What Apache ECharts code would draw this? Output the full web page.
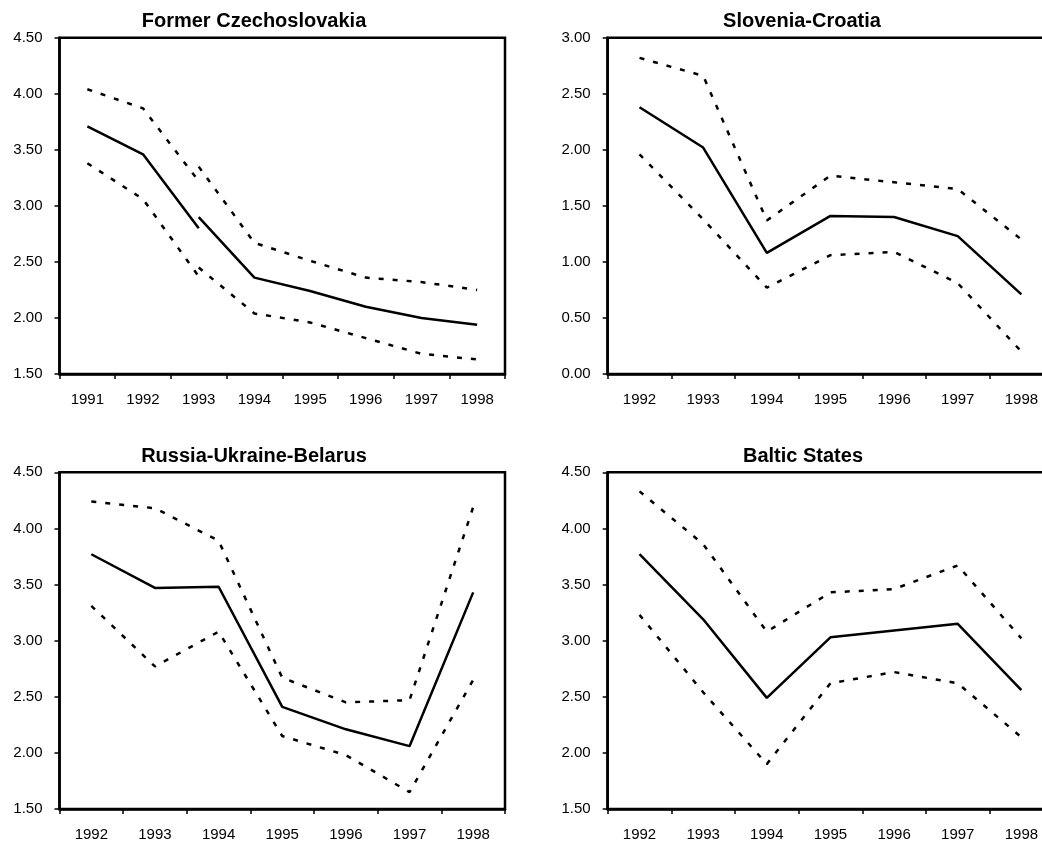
<!DOCTYPE html>
<html>
<head>
<meta charset="utf-8">
<script src="https://cdn.jsdelivr.net/npm/echarts@6/dist/echarts.min.js"></script>
<style>
html,body{margin:0;padding:0;background:#fff;}
#chart{width:1042px;height:846px;}
</style>
</head>
<body>
<div id="chart"></div>
<script>
// ---- Data ----
const titles = ['Former Czechoslovakia', 'Slovenia-Croatia', 'Russia-Ukraine-Belarus', 'Baltic States'];

const czYears = ['1991', '1992', '1993', '1994', '1995', '1996', '1997', '1998'];
const czMainA  = [3.71, 3.46, 2.80, null, null, null, null, null];
const czMainB  = [null, null, 2.90, 2.36, 2.24, 2.10, 2.00, 1.94];
const czUpperA = [4.04, 3.87, 3.22, null, null, null, null, null];
const czUpperB = [null, null, 3.35, 2.67, 2.51, 2.36, 2.32, 2.25];
const czLowerA = [3.38, 3.06, 2.37, null, null, null, null, null];
const czLowerB = [null, null, 2.45, 2.04, 1.96, 1.82, 1.68, 1.63];

const years = ['1992', '1993', '1994', '1995', '1996', '1997', '1998'];

const slMain  = [2.38, 2.02, 1.08, 1.41, 1.40, 1.23, 0.71];
const slUpper = [2.82, 2.66, 1.37, 1.77, 1.71, 1.65, 1.20];
const slLower = [1.96, 1.38, 0.77, 1.06, 1.09, 0.81, 0.20];

const ruMain  = [3.77, 3.47, 3.48, 2.41, 2.21, 2.06, 3.43];
const ruUpper = [4.24, 4.18, 3.89, 2.67, 2.45, 2.47, 4.19];
const ruLower = [3.31, 2.77, 3.08, 2.15, 1.98, 1.65, 2.65];

const btMain  = [3.77, 3.19, 2.49, 3.03, 3.09, 3.15, 2.56];
const btUpper = [4.33, 3.86, 3.08, 3.43, 3.46, 3.67, 3.02];
const btLower = [3.23, 2.54, 1.90, 2.62, 2.72, 2.62, 2.14];

const yRanges = [[1.5, 4.5], [0, 3.0], [1.5, 4.5], [1.5, 4.5]];

// ---- Layout ----
const FONT = 'Liberation Sans, Arial, sans-serif';
const grids = [
  {left: 59.5, top: 37.7, width: 445.5, height: 336.3},
  {left: 607.7, top: 37.7, width: 445.5, height: 336.3},
  {left: 59.5, top: 472.3, width: 445.5, height: 336.7},
  {left: 607.7, top: 472.3, width: 445.5, height: 336.7}
];
const titlePos = [[254, 11], [802, 11], [254, 446], [803, 446]];
const cats = [czYears, years, years, years];

const option = {
  animation: false,
  backgroundColor: '#fff',
  title: titles.map((t, i) => ({
    text: t,
    left: titlePos[i][0],
    top: titlePos[i][1],
    textAlign: 'center',
    padding: 0,
    textStyle: {fontFamily: FONT, fontSize: 20, fontWeight: 'bold', color: '#000'}
  })),
  grid: grids.map(g => Object.assign({
    show: true, borderColor: '#000', borderWidth: 2.5, backgroundColor: '#fff',
    containLabel: false, outerBoundsMode: 'none'
  }, g)),
  xAxis: cats.map((c, i) => ({
    type: 'category',
    gridIndex: i,
    data: c,
    boundaryGap: true,
    axisLine: {show: true, lineStyle: {color: '#000', width: 2.5}},
    axisTick: {show: true, length: 5, lineStyle: {color: '#000', width: 1.5}},
    axisLabel: {color: '#000', fontFamily: FONT, fontSize: 15, margin: 18},
    splitLine: {show: false}
  })),
  yAxis: yRanges.map((r, i) => ({
    type: 'value',
    gridIndex: i,
    min: r[0],
    max: r[1],
    interval: 0.5,
    axisLine: {show: true, lineStyle: {color: '#000', width: 2.5}},
    axisTick: {show: true, length: 5, lineStyle: {color: '#000', width: 1.5}},
    axisLabel: {color: '#000', fontFamily: FONT, fontSize: 15, margin: 17,
      formatter: v => v.toFixed(2)},
    splitLine: {show: false}
  })),
  series: []
};

function addLine(idx, data, dashed) {
  option.series.push({
    type: 'line',
    xAxisIndex: idx,
    yAxisIndex: idx,
    data: data,
    symbol: 'none',
    connectNulls: false,
    lineStyle: dashed
      ? {color: '#000', width: 2.5, type: [5, 9]}
      : {color: '#000', width: 2.5, type: 'solid'}
  });
}

addLine(0, czUpperA, true);
addLine(0, czUpperB, true);
addLine(0, czLowerA, true);
addLine(0, czLowerB, true);
addLine(0, czMainA, false);
addLine(0, czMainB, false);

addLine(1, slUpper, true);
addLine(1, slLower, true);
addLine(1, slMain, false);

addLine(2, ruUpper, true);
addLine(2, ruLower, true);
addLine(2, ruMain, false);

addLine(3, btUpper, true);
addLine(3, btLower, true);
addLine(3, btMain, false);

const chart = echarts.init(document.getElementById('chart'), null, {renderer: 'canvas'});
chart.setOption(option);
</script>
</body>
</html>
